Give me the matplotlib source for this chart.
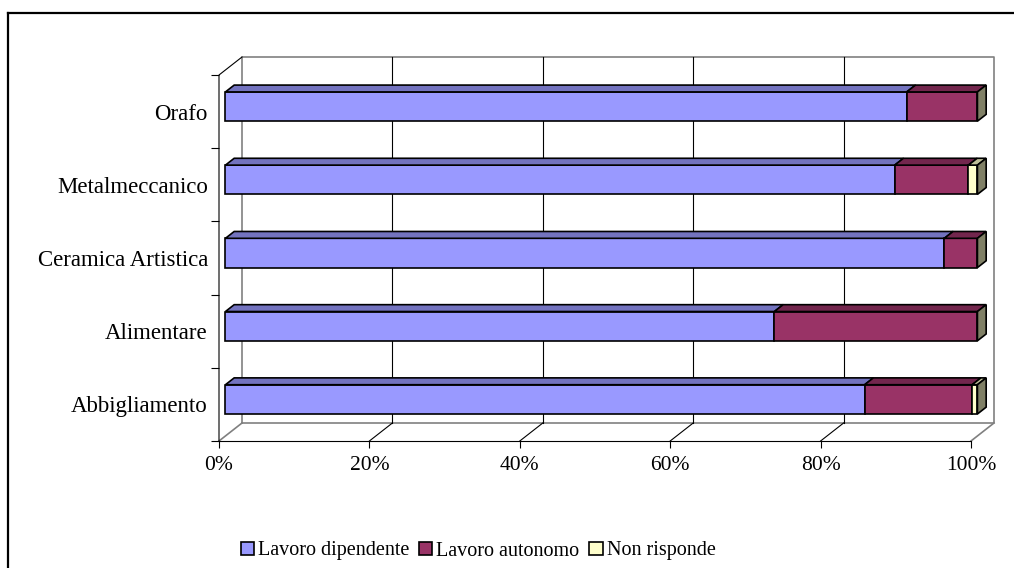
import matplotlib
matplotlib.use('Agg')
import matplotlib.pyplot as plt
from matplotlib.patches import Patch
from matplotlib.lines import Line2D
import matplotlib.colors as mcolors
import numpy as np

##################################################################
## Dati
categorie = ['Abbigliamento', 'Alimentare', 'Ceramica Artistica',
             'Metalmeccanico', 'Orafo']
dipendente = [85.0, 73.0, 95.6, 89.0, 90.6]
autonomo = [14.3, 27.0, 4.4, 9.8, 9.4]
non_risponde = [0.7, 0.0, 0.0, 1.2, 0.0]
serie = ['Lavoro dipendente', 'Lavoro autonomo', 'Non risponde']
xticks = [0, 20, 40, 60, 80, 100]
xlabels = ['0%', '20%', '40%', '60%', '80%', '100%']

colori = ['#9999FF', '#993366', '#FFFFCC']

##################################################################
## Stile
plt.rcParams['font.family'] = ['Liberation Serif', 'DejaVu Serif']

def scuro(c, f):
    r, g, b = mcolors.to_rgb(c)
    return (r * f, g * f, b * f)

# profondita' 3D (in unita' dati)
DX = 3.06      # spostamento orizzontale parete di fondo (%)
DY = 0.246     # spostamento verticale parete di fondo (categorie)
f0, f1 = 0.28, 0.66   # profondita' faccia anteriore/posteriore barre
h = 0.40       # altezza faccia anteriore barra

fig = plt.figure(figsize=(10.14, 5.68), dpi=100)
ax = fig.add_axes([219 / 1014, 1 - 441 / 568, (994 - 219) / 1014, (441 - 57) / 568])
n = len(categorie)
ax.set_xlim(0, 100 + DX)
ax.set_ylim(-0.5, n - 0.5 + DY)
for s in ax.spines.values():
    s.set_visible(False)

##################################################################
## Pareti e griglia
y0, y1 = -0.5, n - 0.5
grigio = '#808080'
# parete di fondo
ax.plot([DX, 100 + DX, 100 + DX, DX, DX],
        [y0 + DY, y0 + DY, y1 + DY, y1 + DY, y0 + DY],
        color=grigio, lw=1.2, clip_on=False, zorder=1)
for xt in xticks[1:-1]:
    ax.plot([xt + DX, xt + DX], [y0 + DY, y1 + DY], color='black', lw=0.8,
            clip_on=False, zorder=1)
    ax.plot([xt, xt + DX], [y0, y0 + DY], color='black', lw=0.8,
            clip_on=False, zorder=1)
# pavimento
ax.plot([0, DX], [y0, y0 + DY], color=grigio, lw=1.2, clip_on=False, zorder=1)
ax.plot([100, 100 + DX], [y0, y0 + DY], color=grigio, lw=1.2, clip_on=False, zorder=1)
ax.plot([0, 100], [y0, y0], color='black', lw=0.8, clip_on=False, zorder=1)
# asse verticale anteriore
ax.plot([0, 0, DX], [y0, y1, y1 + DY], color='black', lw=0.8, clip_on=False, zorder=1)

##################################################################
## Barre 3D
valori = np.array([dipendente, autonomo, non_risponde])
for i in range(n):
    yc = i + f0 * DY
    ox = f0 * DX
    ddx = (f1 - f0) * DX
    ddy = (f1 - f0) * DY
    left = 0.0
    for k in range(len(serie)):
        w = valori[k][i]
        x0 = left + ox
        x1 = left + w + ox
        if w > 0:
            # faccia anteriore
            ax.fill([x0, x1, x1, x0], [yc - h / 2, yc - h / 2, yc + h / 2, yc + h / 2],
                    facecolor=colori[k], edgecolor='black', lw=1.2, zorder=3)
            # faccia superiore
            ax.fill([x0, x1, x1 + ddx, x0 + ddx],
                    [yc + h / 2, yc + h / 2, yc + h / 2 + ddy, yc + h / 2 + ddy],
                    facecolor=scuro(colori[k], 0.75), edgecolor='black', lw=1.2, zorder=3)
        left += w
    # faccia laterale (ultima serie)
    x1 = left + ox
    ax.fill([x1, x1 + ddx, x1 + ddx, x1],
            [yc - h / 2, yc - h / 2 + ddy, yc + h / 2 + ddy, yc + h / 2],
            facecolor=scuro(colori[-1], 0.5), edgecolor='black', lw=1.2, zorder=3)

##################################################################
## Assi
ax.set_xticks(xticks, xlabels, fontsize=15.5)
ax.tick_params(axis='x', direction='out', length=5, width=0.8, pad=6)
ax.set_yticks(range(n), categorie, fontsize=16.5)
ax.set_yticks(np.arange(-0.5, n, 1.0), minor=True)
ax.tick_params(axis='y', which='major', length=0, pad=8)
ax.tick_params(axis='y', which='minor', direction='out', length=6, width=0.8)

##################################################################
## Legenda
handles = [Patch(facecolor=c, edgecolor='black', lw=1.2) for c in colori]
leg = fig.legend(handles, serie, loc='center', bbox_to_anchor=(478 / 1014, 1 - 551 / 568),
                 ncol=3, frameon=False, fontsize=14.5, handlelength=0.65, handleheight=0.65,
                 handletextpad=0.2, columnspacing=0.5)

## Cornice
fig.add_artist(Line2D([8 / 1014, 8 / 1014], [0, 1 - 13 / 568], color='black', lw=1.6))
fig.add_artist(Line2D([8 / 1014, 1], [1 - 13 / 568, 1 - 13 / 568], color='black', lw=1.6))

plt.savefig('out.png', dpi=100)
plt.close()
